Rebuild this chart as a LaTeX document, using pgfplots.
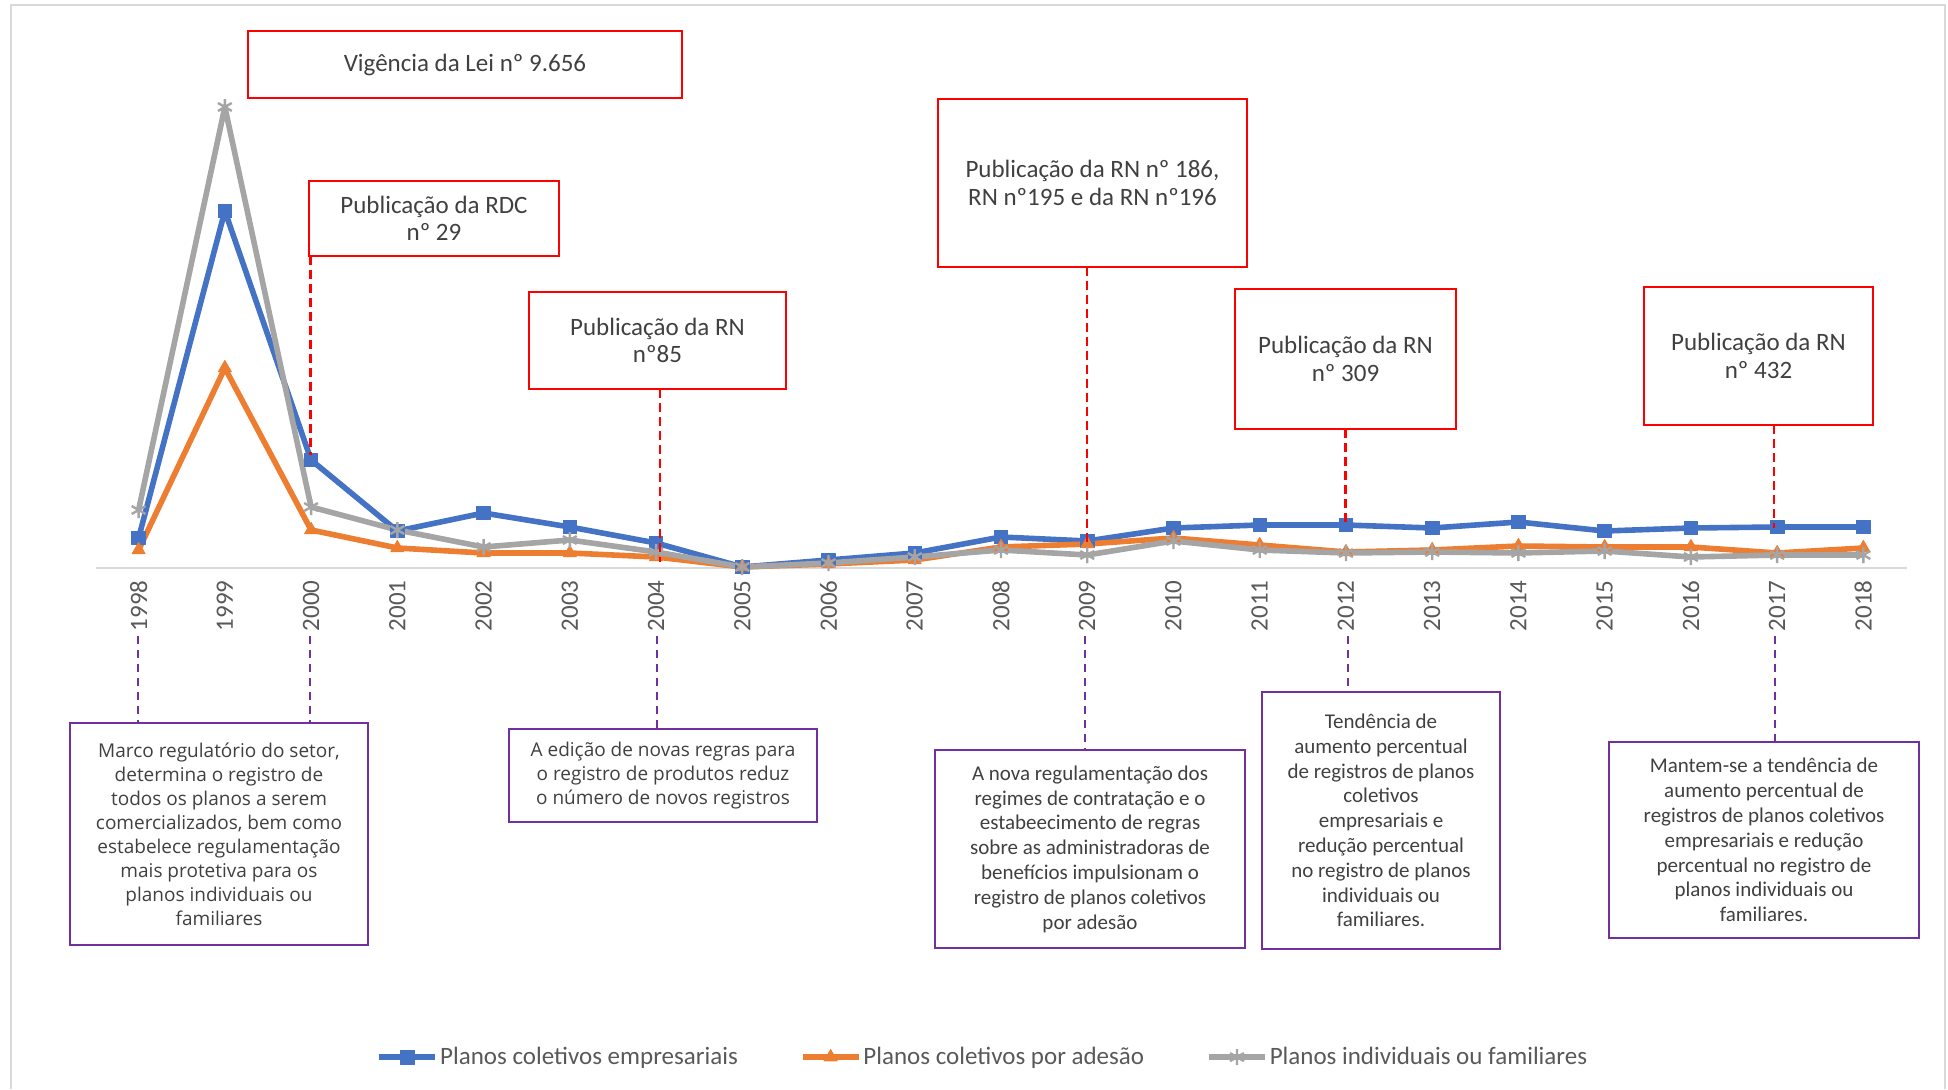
\documentclass[border=0pt]{standalone}
\usepackage{pgfplots}
\pgfplotsset{compat=1.18}
\usepackage{fontspec}
\setmainfont{Carlito}
\newfontfamily\segoe{Open Sans}

\definecolor{cblue}{HTML}{4472C4}
\definecolor{corange}{HTML}{ED7D31}
\definecolor{cgray}{HTML}{A5A5A5}
\definecolor{txt}{HTML}{404040}
\definecolor{ticktxt}{HTML}{595959}
\definecolor{boxred}{HTML}{FF0000}
\definecolor{boxpurple}{HTML}{7030A0}
\definecolor{framegray}{HTML}{D9D9D9}

\begin{document}
\begin{tikzpicture}
\begin{axis}[
    at={(47.75pt,-284pt)}, anchor=south west,
    scale only axis, width=905.5pt, height=240pt,
    xmin=1997.5, xmax=2018.5, ymin=0, ymax=480,
    axis x line*=bottom, axis y line=none,
    x axis line style={-, draw=framegray, line width=1.2pt},
    xtick={1998,...,2018}, major tick length=0pt,
    xticklabel style={rotate=90, anchor=east, inner sep=0pt,
        font=\fontsize{12.5}{12.5}\selectfont, text=ticktxt},
    xticklabel shift=6pt,
    /pgf/number format/1000 sep={},
    /pgf/number format/assume math mode=true,
    clip=false,
    legend columns=3,
    legend style={at={(0.49,-1.019)}, anchor=center, draw=none, fill=none,
        font=\fontsize{12.5}{12.5}\selectfont, text=ticktxt,
        nodes={inner xsep=1pt},
        /tikz/every odd column/.append style={column sep=0pt},
        /tikz/every even column/.append style={column sep=30pt}},
    legend image code/.code={
        \draw[mark repeat=2,mark phase=2,#1] plot coordinates {(0pt,0pt) (14pt,0pt) (28pt,0pt)};
    },
]
% planos coletivos empresariais
\addplot[color=cblue, line width=2.8pt, line join=round, mark=square*, mark size=3.4pt,
    mark options={line width=0.4pt}] coordinates {
    (1998,30) (1999,357) (2000,108) (2001,37) (2002,55) (2003,41) (2004,25)
    (2005,1) (2006,8) (2007,15) (2008,31) (2009,27) (2010,40) (2011,43)
    (2012,43) (2013,40) (2014,46) (2015,37) (2016,40) (2017,41) (2018,41)};
\addlegendentry{Planos coletivos empresariais}
% planos coletivos por adesao
\addplot[color=corange, line width=2.8pt, line join=round, mark=triangle*, mark size=3.8pt,
    mark options={line width=0.4pt}] coordinates {
    (1998,18) (1999,200) (2000,38) (2001,20) (2002,15) (2003,15) (2004,11)
    (2005,1) (2006,4) (2007,8) (2008,21) (2009,24) (2010,30) (2011,23)
    (2012,16) (2013,18) (2014,22) (2015,21) (2016,21) (2017,15) (2018,20)};
\addlegendentry{Planos coletivos por adesão}
% planos individuais ou familiares
\addplot[color=cgray, line width=2.8pt, line join=round, mark=asterisk, mark size=4pt,
    mark options={line width=1.2pt}] coordinates {
    (1998,58) (1999,461) (2000,61) (2001,38) (2002,21) (2003,28) (2004,16)
    (2005,1) (2006,5) (2007,11) (2008,18) (2009,13) (2010,27) (2011,18)
    (2012,15) (2013,16) (2014,15) (2015,17) (2016,11) (2017,13) (2018,13)};
\addlegendentry{Planos individuais ou familiares}
\end{axis}

% annotations, in pixel units of the reference
\begin{scope}[x=0.5pt, y=-0.5pt]
\path (0,0) rectangle (1948,1089);
\draw[framegray, line width=1pt] (11,1089) -- (11,5) -- (1945,5) -- (1945,1089);

\tikzset{redbox/.style={boxred, line width=1.2pt},
         redtxt/.style={text=txt, align=center, font=\fontsize{12.5}{13.8}\selectfont},
         reddash/.style={boxred, line width=1.3pt, dash pattern=on 4.5pt off 2.5pt},
         purbox/.style={boxpurple, line width=1.2pt},
         purtxt/.style={text=txt, align=center, font=\fontsize{10.5}{12.4}\selectfont},
         segtxt/.style={text=txt, align=center, font=\segoe\fontsize{9.5}{12}\selectfont},
         purdash/.style={boxpurple, line width=1.3pt, dash pattern=on 4pt off 3pt}}

% red boxes (legislation)
\draw[redbox] (248,31) rectangle (682,98);
\node[redtxt] at (465,64.5) {Vigência da Lei nº 9.656};

\draw[redbox] (309,181) rectangle (559,256);
\node[redtxt] at (434,218.5) {Publicação da RDC\\nº 29};
\draw[reddash] (310.5,256) -- (310.5,455);

\draw[redbox] (529,292) rectangle (786,389);
\node[redtxt] at (657.5,340.5) {Publicação da RN\\nº85};
\draw[reddash] (660,389) -- (660,562);

\draw[redbox] (938,99) rectangle (1247,267);
\node[redtxt] at (1092.5,183) {Publicação da RN nº 186,\\RN nº195 e da RN nº196};
\draw[reddash] (1087,267) -- (1087,544);

\draw[redbox] (1235,289) rectangle (1456,429);
\node[redtxt] at (1345.5,359) {Publicação da RN\\nº 309};
\draw[reddash] (1345.5,429) -- (1345.5,525);

\draw[redbox] (1644,287) rectangle (1873,425);
\node[redtxt] at (1758.5,356) {Publicação da RN\\nº 432};
\draw[reddash] (1774,425) -- (1774,528);

% purple boxes (effects)
\draw[purdash] (138,636) -- (138,722);
\draw[purdash] (310,636) -- (310,722);
\draw[purbox] (70,723) rectangle (368,945);
\node[segtxt] at (219,834) {Marco regulatório do setor,\\determina o registro de\\todos os planos a serem\\comercializados, bem como\\estabelece regulamentação\\mais protetiva para os\\planos individuais ou\\familiares};

\draw[purdash] (657,636) -- (657,728);
\draw[purbox] (509,729) rectangle (817,822);
\node[segtxt] at (663,775.5) {A edição de novas regras para\\o registro de produtos reduz\\o número de novos registros};

\draw[purdash] (1085,636) -- (1085,749);
\draw[purbox] (935,750) rectangle (1245,948);
\node[purtxt] at (1090,849) {A nova regulamentação dos\\regimes de contratação e o\\estabeecimento de regras\\sobre as administradoras de\\benefícios impulsionam o\\registro de planos coletivos\\por adesão};

\draw[purdash] (1348,636) -- (1348,691);
\draw[purbox] (1262,692) rectangle (1500,949);
\node[purtxt] at (1381,820.5) {Tendência de\\aumento percentual\\de registros de planos\\coletivos\\empresariais e\\redução percentual\\no registro de planos\\individuais ou\\familiares.};

\draw[purdash] (1775,636) -- (1775,741);
\draw[purbox] (1609,742) rectangle (1919,938);
\node[purtxt] at (1764,840) {Mantem-se a tendência de\\aumento percentual de\\registros de planos coletivos\\empresariais e redução\\percentual no registro de\\planos individuais ou\\familiares.};
\end{scope}
\end{tikzpicture}
\end{document}
